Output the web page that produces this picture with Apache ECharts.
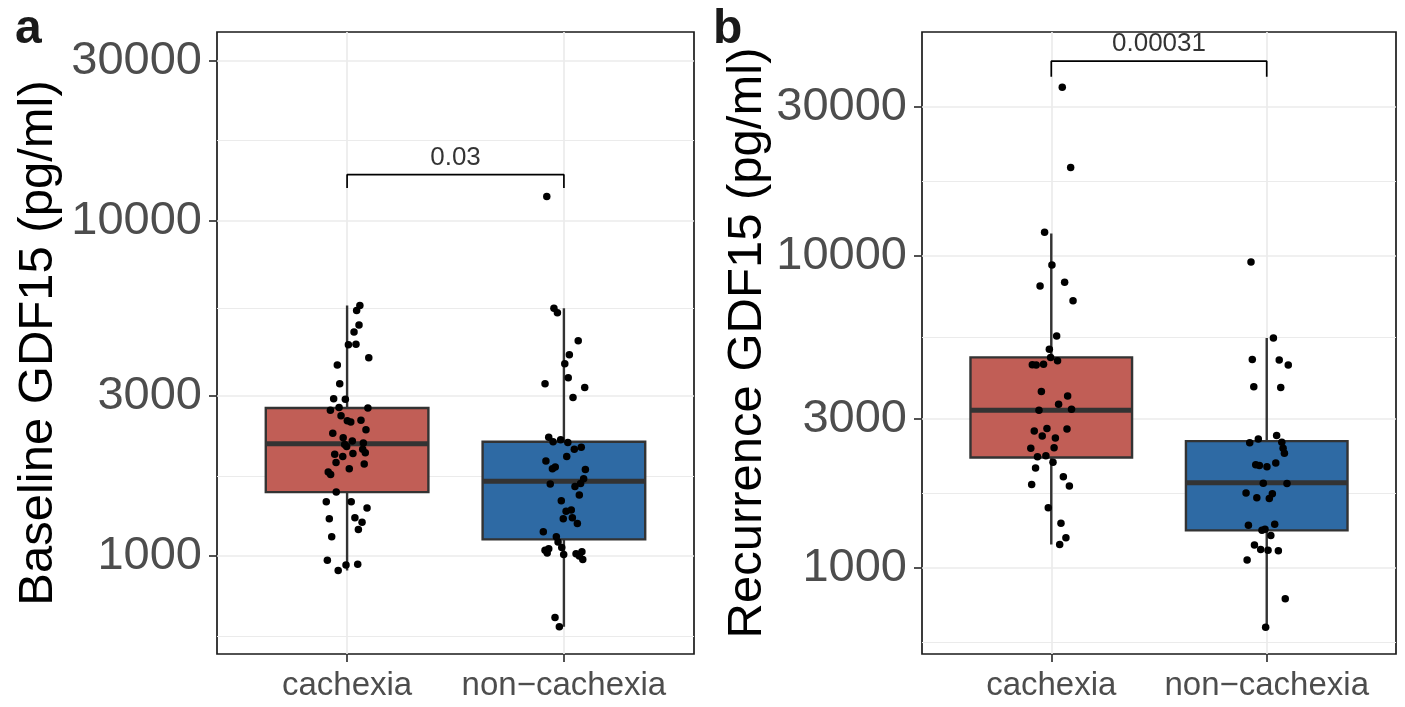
<!DOCTYPE html>
<html>
<head>
<meta charset="utf-8">
<title>GDF15</title>
<script src="https://cdn.jsdelivr.net/npm/echarts@6/dist/echarts.min.js"></script>
<style>
  html, body {
    margin: 0;
    padding: 0;
    background: #fff;
  }
  #main {
    width: 1405px;
    height: 707px;
  }
</style>
</head>
<body>
<div id="main"></div>
<script>
const groups = ['cachexia', 'non\u2212cachexia']

// box stats: [min, Q1, median, Q3, max] in pg/ml
const baselineBoxes = [
  [905, 1550, 2160, 2760, 5580],
  [615, 1120, 1670, 2190, 5480]
]
const recurrenceBoxes = [
  [1190, 2260, 3200, 4730, 11800],
  [646, 1320, 1875, 2550, 5460]
]

// points (pg/ml) and their horizontal jitter around the group
const baselineCachexia = [5580, 5390, 4880, 4650, 4260, 4280, 3900, 3710, 3260, 2940, 2930, 2720, 2770, 2760, 2620, 2530, 2510, 2540, 2380, 2320, 2250, 2200, 2150, 2170, 2120, 2080, 2030, 2020, 2010, 1980, 1900, 1880, 1820, 1780, 1750, 1550, 1450, 1450, 1390, 1290, 1300, 1260, 1200, 1140, 970, 940, 945, 905]
const baselineCachexiaJitter = [0.059, 0.044, 0.055, 0.032, 0.006, 0.041, 0.100, -0.045, -0.034, -0.062, -0.008, -0.077, -0.037, 0.096, -0.028, 0.001, 0.017, 0.064, 0.087, -0.066, -0.018, 0.024, -0.011, 0.075, -0.002, 0.072, 0.084, 0.027, -0.057, -0.020, -0.051, 0.079, 0.010, -0.087, -0.076, -0.050, -0.096, 0.019, 0.092, -0.082, 0.036, 0.069, 0.052, -0.071, -0.091, -0.005, 0.049, -0.041]
const baselineNon = [11800, 5480, 5310, 4380, 3980, 3740, 3400, 3260, 3180, 2970, 2260, 2190, 2220, 2180, 2080, 2110, 1980, 1920, 1820, 1840, 1810, 1700, 1640, 1610, 1645, 1520, 1460, 1360, 1370, 1290, 1300, 1250, 1180, 1140, 1100, 1040, 1050, 1020, 1060, 1010, 1015, 1000, 975, 1030, 655, 615]
const baselineNonJitter = [-0.079, -0.046, -0.030, 0.066, 0.025, 0.004, 0.020, -0.087, 0.096, 0.042, -0.070, -0.050, -0.015, 0.018, 0.048, 0.080, 0.013, -0.083, -0.053, -0.040, 0.099, 0.091, -0.063, 0.051, 0.077, 0.071, -0.012, 0.010, 0.034, -0.003, 0.039, 0.062, -0.095, -0.035, -0.027, -0.087, -0.070, -0.077, -0.010, -0.001, 0.056, 0.071, 0.087, 0.083, -0.041, -0.021]
const recurrenceCachexia = [34700, 19200, 11900, 9350, 8010, 8230, 7190, 5540, 5020, 4730, 4610, 4480, 4470, 4500, 3680, 3560, 3350, 3200, 3225, 2750, 2800, 2790, 2650, 2610, 2420, 2430, 2270, 2290, 2180, 2090, 1960, 1850, 1830, 1560, 1390, 1250, 1190]
const recurrenceCachexiaJitter = [0.051, 0.090, -0.031, 0.003, -0.052, 0.062, 0.101, 0.025, -0.009, -0.003, 0.029, -0.088, -0.070, -0.036, -0.046, 0.076, 0.034, -0.057, 0.094, -0.079, -0.020, 0.073, -0.042, 0.019, -0.095, 0.013, -0.064, -0.025, 0.008, -0.073, 0.056, -0.091, 0.084, -0.014, 0.045, 0.068, 0.039]
const recurrenceNon = [9560, 5460, 4660, 4640, 4470, 3810, 3790, 2660, 2590, 2520, 2530, 2420, 2330, 2140, 2130, 2110, 2170, 1870, 1865, 1740, 1680, 1730, 1670, 1370, 1380, 1320, 1330, 1270, 1185, 1145, 1140, 1135, 1060, 797, 646]
const recurrenceNonJitter = [-0.073, 0.031, -0.067, 0.058, 0.100, -0.060, 0.065, 0.046, -0.039, -0.079, 0.070, 0.076, 0.082, -0.051, -0.034, 0.001, 0.042, -0.016, 0.094, -0.096, -0.046, 0.026, 0.012, -0.085, 0.037, -0.022, -0.008, 0.019, -0.057, -0.028, 0.006, 0.054, -0.091, 0.086, -0.005]

// significance brackets
const pValues = ['0.03', '0.00031']
const bracketTop = [13700, 42100]
const bracketFoot = [12500, 37500]

// axis ticks and limits
const majorTicks = [1000, 3000, 10000, 30000]
const minorTicks = [577.35, 1732.05, 5477.23, 17320.5]
const baselineRange = [510, 36500]
const recurrenceRange = [530, 52200]

const BOX_WIDTH = 0.75
const FONT = '"Liberation Sans", Arial, Helvetica, sans-serif'
const boxColors = ['#C15E56', '#2E6AA4']

function pointsOf (values, jitter, x) {
  return values.map((v, i) => [x + jitter[i], v])
}

function boxData (boxes) {
  return boxes.map((b, i) => ({
    value: [i + 1].concat(b),
    itemStyle: { color: boxColors[i] }
  }))
}

// whisker, box and thick median drawn through the axis scales
function renderBox (params, api) {
  const x = api.value(0)
  const h = BOX_WIDTH / 2
  const pHi = api.coord([x, api.value(5)])
  const pLo = api.coord([x, api.value(1)])
  const tl = api.coord([x - h, api.value(4)])
  const br = api.coord([x + h, api.value(2)])
  const ml = api.coord([x - h, api.value(3)])
  const mr = api.coord([x + h, api.value(3)])
  return {
    type: 'group',
    children: [
      { type: 'line', shape: { x1: pHi[0], y1: pHi[1], x2: pLo[0], y2: pLo[1] }, style: { stroke: '#333333', lineWidth: 2.4 } },
      { type: 'rect', shape: { x: tl[0], y: tl[1], width: br[0] - tl[0], height: br[1] - tl[1] }, style: { fill: api.visual('color'), stroke: '#333333', lineWidth: 2.4 } },
      { type: 'line', shape: { x1: ml[0], y1: ml[1], x2: mr[0], y2: mr[1] }, style: { stroke: '#333333', lineWidth: 5 } }
    ]
  }
}

function xAxisFor (gridIndex) {
  return {
    type: 'value',
    gridIndex: gridIndex,
    min: 0.4,
    max: 2.6,
    axisLine: { show: false },
    axisTick: { show: true, customValues: [1, 2], length: 8, lineStyle: { color: '#333333', width: 1.7 } },
    axisLabel: {
      customValues: [1, 2],
      formatter: v => groups[Math.round(v) - 1],
      fontSize: 33,
      fontFamily: FONT,
      color: '#4D4D4D',
      margin: 15
    },
    splitLine: { show: true, lineStyle: { color: '#EBEBEB', width: 1.7 } }
  }
}

function yMajor (gridIndex, range, name, nameGap) {
  return {
    type: 'log',
    logBase: 10,
    gridIndex: gridIndex,
    min: range[0],
    max: range[1],
    axisLine: { show: false },
    axisTick: { show: true, customValues: majorTicks, length: 8, lineStyle: { color: '#333333', width: 1.7 } },
    axisLabel: {
      customValues: majorTicks,
      formatter: v => String(Math.round(v)),
      fontSize: 47,
      fontFamily: FONT,
      color: '#4D4D4D',
      margin: 15
    },
    splitLine: { show: true, lineStyle: { color: '#EBEBEB', width: 1.7 } },
    name: name,
    nameLocation: 'middle',
    nameGap: nameGap,
    nameTextStyle: { fontSize: 49, fontFamily: FONT, color: '#000000' }
  }
}

function yMinor (gridIndex, range) {
  return {
    type: 'log',
    logBase: 10,
    gridIndex: gridIndex,
    min: range[0],
    max: range[1],
    axisLine: { show: false },
    axisTick: { show: false, customValues: minorTicks },
    axisLabel: { show: false },
    splitLine: { show: true, lineStyle: { color: '#EBEBEB', width: 1.1 } }
  }
}

function panelSeries (k, boxes, pts) {
  const xi = k
  const yi = k * 2
  return [
    {
      type: 'custom',
      xAxisIndex: xi,
      yAxisIndex: yi,
      renderItem: renderBox,
      encode: { x: 0, y: [1, 2, 3, 4, 5] },
      data: boxData(boxes),
      z: 2
    },
    {
      type: 'scatter',
      xAxisIndex: xi,
      yAxisIndex: yi,
      symbolSize: 7.5,
      itemStyle: { color: '#000000', opacity: 1 },
      data: pts,
      z: 3
    },
    {
      type: 'line',
      xAxisIndex: xi,
      yAxisIndex: yi,
      symbol: 'none',
      lineStyle: { color: '#000000', width: 1.7 },
      data: [[1, bracketFoot[k]], [1, bracketTop[k]], [2, bracketTop[k]], [2, bracketFoot[k]]],
      z: 3
    },
    {
      type: 'scatter',
      xAxisIndex: xi,
      yAxisIndex: yi,
      symbolSize: 0,
      data: [[1.5, bracketTop[k]]],
      label: {
        show: true,
        position: 'top',
        distance: 4,
        formatter: pValues[k],
        fontSize: 26,
        fontFamily: FONT,
        color: '#000000'
      },
      z: 3
    }
  ]
}

const chart = echarts.init(document.getElementById('main'), null, { renderer: 'canvas' })

chart.setOption({
  animation: false,
  backgroundColor: '#ffffff',
  title: [
    { text: 'a', left: 15, top: 6, padding: 0, textStyle: { fontSize: 48, fontWeight: 'bold', fontFamily: FONT, color: '#1A1A1A' } },
    { text: 'b', left: 713, top: 6, padding: 0, textStyle: { fontSize: 48, fontWeight: 'bold', fontFamily: FONT, color: '#1A1A1A' } }
  ],
  grid: [
    { left: 217, top: 32, width: 477, height: 622, show: true, borderColor: '#1A1A1A', borderWidth: 1.7, backgroundColor: 'transparent' },
    { left: 922, top: 32, width: 474, height: 622, show: true, borderColor: '#1A1A1A', borderWidth: 1.7, backgroundColor: 'transparent' }
  ],
  xAxis: [xAxisFor(0), xAxisFor(1)],
  yAxis: [
    yMajor(0, baselineRange, 'Baseline GDF15 (pg/ml)', 154),
    yMinor(0, baselineRange),
    yMajor(1, recurrenceRange, 'Recurrence GDF15 (pg/ml)', 150),
    yMinor(1, recurrenceRange)
  ],
  series: [].concat(
    panelSeries(0, baselineBoxes,
      pointsOf(baselineCachexia, baselineCachexiaJitter, 1).concat(pointsOf(baselineNon, baselineNonJitter, 2))),
    panelSeries(1, recurrenceBoxes,
      pointsOf(recurrenceCachexia, recurrenceCachexiaJitter, 1).concat(pointsOf(recurrenceNon, recurrenceNonJitter, 2)))
  )
})
</script>
</body>
</html>
